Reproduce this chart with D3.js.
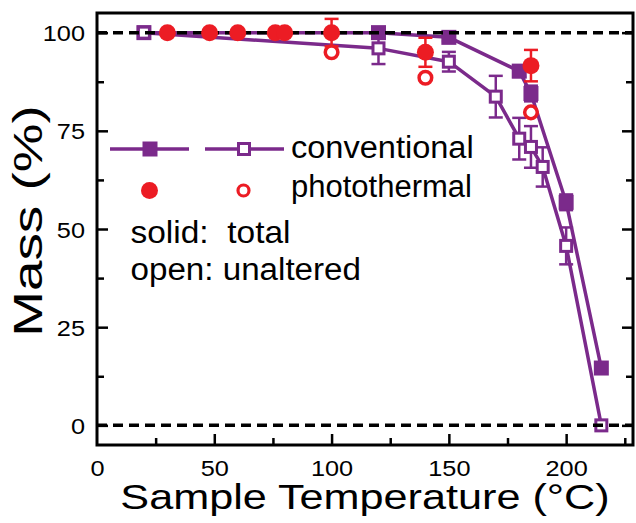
<!DOCTYPE html>
<html><head><meta charset="utf-8">
<script src="https://cdn.jsdelivr.net/npm/d3@7"></script>
<style>
html,body{margin:0;padding:0;background:#fff;}
svg{display:block;font-family:"Liberation Sans",Arial,Helvetica,sans-serif;}
</style></head>
<body>
<svg id="chart" width="636" height="523"></svg>
<script>
// ---- data ----
const tempConvTotal = [20, 120, 150, 180, 185, 200, 215];
const massConvTotal = [100, 100, 98.8, 90.2, 84.5, 56.8, 14.6];
const errConvTotal  = [0, 0, 1, 1.5, 2, 2, 0];

const tempConvUnalt = [20, 120, 150, 170, 180, 185, 190, 200, 215];
const massConvUnalt = [100, 96, 92.6, 83.7, 73, 70.9, 65.8, 45.7, 0];
const errConvUnalt  = [0, 4, 2.5, 5.3, 5.3, 5.3, 5, 4.7, 0];

const tempPhotoTotal = [30, 48, 60, 76, 80, 100, 140, 185];
const massPhotoTotal = [100, 100, 100, 100, 100, 100, 95, 91.6];
const errPhotoTotal  = [0, 0, 0, 0, 0, 3.5, 3.7, 4];

const tempPhotoUnalt = [100, 140, 185];
const massPhotoUnalt = [95, 88.5, 79.7];

const xTickLabels = [0, 50, 100, 150, 200];
const xMinorTicks = [25, 75, 125, 175, 225];
const yTickLabels = [0, 25, 50, 75, 100];
const yMinorTicks = [12.5, 37.5, 62.5, 87.5];
const refLines = [0, 100];

// ---- layout ----
const PURPLE = "#7b2a8b", RED = "#ec1c24";
const L = 97, R = 633, T = 13, B = 445;
const x = d3.scaleLinear().domain([0, 228.5]).range([L, R]);
const y = d3.scaleLinear().domain([-5, 105]).range([B, T]);
const svg = d3.select("#chart");

function zip(t, m, e) { return t.map((v, i) => ({t: v, m: m[i], e: e ? e[i] : 0})); }
const convTotal = zip(tempConvTotal, massConvTotal, errConvTotal);
const convUnalt = zip(tempConvUnalt, massConvUnalt, errConvUnalt);
const photoTotal = zip(tempPhotoTotal, massPhotoTotal, errPhotoTotal);
const photoUnalt = zip(tempPhotoUnalt, massPhotoUnalt, null);

const line = d3.line().x(d => x(d.t)).y(d => y(d.m));

function errorBars(g, data, color) {
  const eb = g.append("g").attr("stroke", color).attr("stroke-width", 2.5).attr("fill", "none");
  data.filter(d => d.e > 0).forEach(d => {
    const cx = x(d.t), y1 = y(d.m + d.e), y2 = y(d.m - d.e);
    eb.append("line").attr("x1", cx).attr("x2", cx).attr("y1", y1).attr("y2", y2);
    eb.append("line").attr("x1", cx - 7).attr("x2", cx + 7).attr("y1", y1).attr("y2", y1);
    eb.append("line").attr("x1", cx - 7).attr("x2", cx + 7).attr("y1", y2).attr("y2", y2);
  });
}

// ---- conventional (purple) ----
const gP = svg.append("g");
gP.append("path").datum(convUnalt).attr("d", line).attr("fill", "none")
  .attr("stroke", PURPLE).attr("stroke-width", 3.5).attr("stroke-linejoin", "round");
gP.append("path").datum(convTotal).attr("d", line).attr("fill", "none")
  .attr("stroke", PURPLE).attr("stroke-width", 3.5).attr("stroke-linejoin", "round");
errorBars(gP, convUnalt, PURPLE);
errorBars(gP, convTotal, PURPLE);
gP.selectAll("rect.ct").data(convTotal).join("rect").attr("class", "ct")
  .attr("x", d => x(d.t) - 7.5).attr("y", d => y(d.m) - 7.5)
  .attr("width", 15).attr("height", 15).attr("fill", PURPLE);
gP.selectAll("rect.cu").data(convUnalt).join("rect").attr("class", "cu")
  .attr("x", d => x(d.t) - 5.5).attr("y", d => y(d.m) - 5.5)
  .attr("width", 11).attr("height", 11).attr("fill", "#fff")
  .attr("stroke", PURPLE).attr("stroke-width", 3);

// ---- dashed reference lines ----
svg.append("g").selectAll("line").data(refLines).join("line")
  .attr("x1", L).attr("x2", R).attr("y1", d => y(d)).attr("y2", d => y(d))
  .attr("stroke", "#000").attr("stroke-width", 3.5).attr("stroke-dasharray", "10,6");

// ---- photothermal (red) ----
const gR = svg.append("g");
errorBars(gR, photoTotal, RED);
gR.selectAll("circle.pt").data(photoTotal).join("circle").attr("class", "pt")
  .attr("cx", d => x(d.t)).attr("cy", d => y(d.m)).attr("r", 8.5).attr("fill", RED);
gR.selectAll("circle.pu").data(photoUnalt).join("circle").attr("class", "pu")
  .attr("cx", d => x(d.t)).attr("cy", d => y(d.m)).attr("r", 6.3)
  .attr("fill", "#fff").attr("stroke", RED).attr("stroke-width", 3.5);

// ---- axes ----
function styleAxis(g) {
  g.select(".domain").remove();
  g.selectAll(".tick line").attr("stroke", "#000").attr("stroke-width", 2.5);
}
const yAxisL = svg.append("g").attr("transform", `translate(${L},0)`)
  .call(d3.axisLeft(y).tickValues(yTickLabels).tickSize(-11).tickPadding(12).tickFormat(d3.format("d")));
styleAxis(yAxisL);
yAxisL.selectAll("text").attr("x", null).attr("dy", null)
  .attr("transform", "translate(-12,8) scale(1.15,1)")
  .attr("text-anchor", "end").attr("font-size", 22).attr("fill", "#000")
  .attr("font-family", "Liberation Sans, Arial, sans-serif");
styleAxis(svg.append("g").attr("transform", `translate(${L},0)`)
  .call(d3.axisLeft(y).tickValues(yMinorTicks).tickSize(-7).tickFormat("")));
styleAxis(svg.append("g").attr("transform", `translate(${R},0)`)
  .call(d3.axisRight(y).tickValues(yTickLabels).tickSize(-11).tickFormat("")));
styleAxis(svg.append("g").attr("transform", `translate(${R},0)`)
  .call(d3.axisRight(y).tickValues(yMinorTicks).tickSize(-7).tickFormat("")));

const xAxis = svg.append("g").attr("transform", `translate(0,${B})`)
  .call(d3.axisBottom(x).tickValues(xTickLabels).tickSize(-11).tickFormat(d3.format("d")));
styleAxis(xAxis);
xAxis.selectAll(".tick").filter(d => d === 0).select("line").remove();
xAxis.selectAll("text").attr("y", null).attr("dy", null)
  .attr("transform", "translate(0,30.7) scale(1.15,1)")
  .attr("text-anchor", "middle").attr("font-size", 22).attr("fill", "#000")
  .attr("font-family", "Liberation Sans, Arial, sans-serif");
styleAxis(svg.append("g").attr("transform", `translate(0,${B})`)
  .call(d3.axisBottom(x).tickValues(xMinorTicks).tickSize(-7).tickFormat("")));

// ---- frame ----
svg.append("rect").attr("x", L).attr("y", T).attr("width", R - L).attr("height", B - T)
  .attr("fill", "none").attr("stroke", "#000").attr("stroke-width", 3);

// ---- axis titles ----
svg.append("text").attr("transform", `translate(${(L + R) / 2},509) scale(1.2,1)`)
  .attr("text-anchor", "middle").attr("font-size", 36).attr("fill", "#000")
  .text("Sample Temperature (°C)");
svg.append("text").attr("transform", "translate(42,221) rotate(-90) scale(1.37,1)")
  .attr("text-anchor", "middle").attr("font-size", 40).attr("fill", "#000")
  .text("Mass (%)");

// ---- legend ----
const lg = svg.append("g");
lg.append("line").attr("x1", 110).attr("x2", 189).attr("y1", 149).attr("y2", 149)
  .attr("stroke", PURPLE).attr("stroke-width", 3.5);
lg.append("rect").attr("x", 142.5).attr("y", 141.5).attr("width", 15).attr("height", 15).attr("fill", PURPLE);
lg.append("line").attr("x1", 205).attr("x2", 284).attr("y1", 149).attr("y2", 149)
  .attr("stroke", PURPLE).attr("stroke-width", 3.5);
lg.append("rect").attr("x", 238.5).attr("y", 143.5).attr("width", 11).attr("height", 11)
  .attr("fill", "#fff").attr("stroke", PURPLE).attr("stroke-width", 3);
lg.append("circle").attr("cx", 149.5).attr("cy", 190.5).attr("r", 8.5).attr("fill", RED);
lg.append("circle").attr("cx", 243.5).attr("cy", 190.5).attr("r", 5.5)
  .attr("fill", "#fff").attr("stroke", RED).attr("stroke-width", 3.2);

const legendTexts = [
  {s: "conventional", tx: 291, ty: 158.3, sx: 1.05},
  {s: "photothermal", tx: 291, ty: 196.7, sx: 1.0},
  {s: "solid:  total", tx: 130.5, ty: 242.7, sx: 1.08},
  {s: "open: unaltered", tx: 130.5, ty: 280, sx: 1.07}
];
lg.selectAll("text").data(legendTexts).join("text")
  .attr("transform", d => `translate(${d.tx},${d.ty}) scale(${d.sx},1)`)
  .attr("font-size", 31).attr("fill", "#000").style("white-space", "pre")
  .text(d => d.s);
</script>
</body></html>
